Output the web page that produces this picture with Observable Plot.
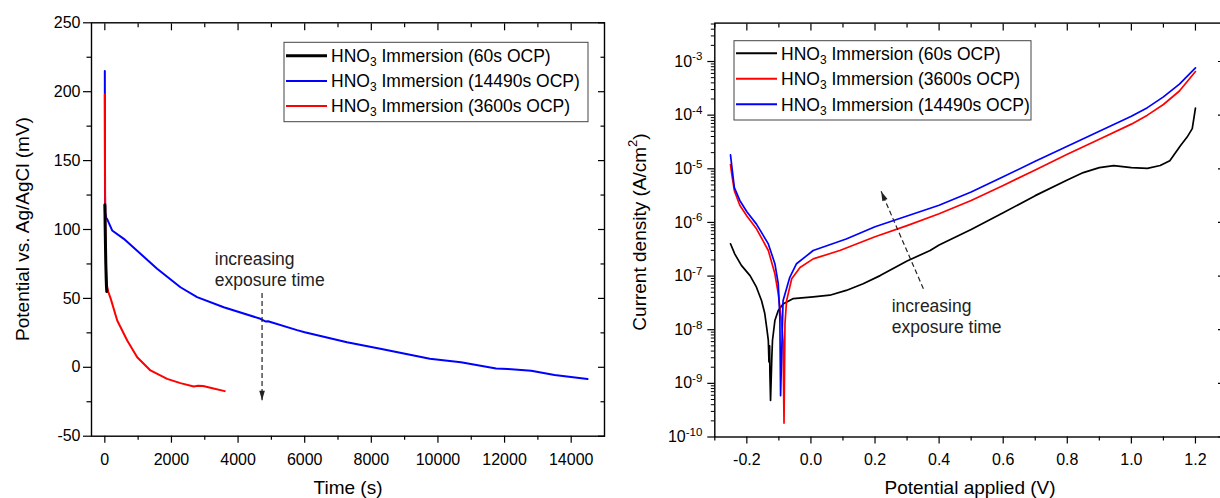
<!DOCTYPE html>
<html><head><meta charset="utf-8">
<script src="https://cdn.jsdelivr.net/npm/d3@7"></script>
<script src="https://cdn.jsdelivr.net/npm/@observablehq/plot@0.6"></script>
<style>
html,body{margin:0;padding:0;background:#fff;overflow:hidden;}
#wrap{width:1220px;height:498px;overflow:hidden;display:flex;position:relative;background:#fff;}
#wrap svg{flex:none;display:block;}
</style></head><body><div id="wrap"></div>
<script>
// ---------- Left panel: OCP vs time ----------
const timeTicks = [0, 2000, 4000, 6000, 8000, 10000, 12000, 14000];
const timeMinor = [1000, 3000, 5000, 7000, 9000, 11000, 13000];
const potTicks = [-50, 0, 50, 100, 150, 200, 250];
const potMinor = [-25, 25, 75, 125, 175, 225];

const ocp60T = [0, 5, 10, 20, 30, 40, 50, 60];
const ocp60V = [118, 112, 102, 88, 75, 65, 58, 55];

const ocp14490T = [0, 2, 5, 15, 40, 70, 220, 570, 1070, 1570, 2270, 2770, 3570, 4670, 4820, 4900, 5770, 6000, 7270, 8270, 9757, 10690, 11745, 12100, 12800, 13500, 14490];
const ocp14490V = [215, 170, 125, 112, 108.5, 107.5, 99.3, 93.2, 82.4, 71.5, 58.1, 50.9, 43.6, 35.2, 33.3, 33.4, 27, 25.5, 18.2, 13.4, 6.2, 3.7, -0.8, -1.3, -2.5, -5.6, -8.5];

const ocp3600T = [0, 5, 10, 20, 35, 60, 100, 174, 372, 672, 972, 1370, 1871, 2270, 2670, 2800, 2950, 3200, 3600];
const ocp3600V = [198, 150, 120, 92, 72, 60, 55, 50, 34, 19.4, 7.3, -2.3, -8.4, -11.5, -13.9, -13.4, -13.6, -15, -17.3];

const annoLeft = [{x: 3300, y: 71.3, text: "increasing\nexposure time"}];
const arrowLeft = [{x1: 4720, y1: 54, x2: 4720, y2: -24}];

// ---------- Right panel: polarisation curves ----------
const potAppTicks = [-0.2, 0, 0.2, 0.4, 0.6, 0.8, 1.0, 1.2];
const potAppMinor = [-0.3, -0.1, 0.1, 0.3, 0.5, 0.7, 0.9, 1.1, 1.3];
const curTicks = [1e-10, 1e-9, 1e-8, 1e-7, 1e-6, 1e-5, 1e-4, 1e-3];

const pol60V = [-0.251, -0.2375, -0.217, -0.19, -0.17, -0.154, -0.144, -0.137, -0.133, -0.131, -0.129, -0.128, -0.126, -0.122, -0.12, -0.1125, -0.102, -0.087, -0.055, 0.007, 0.059, 0.11, 0.163, 0.216, 0.3, 0.372, 0.4, 0.5, 0.6, 0.7, 0.8, 0.85, 0.9, 0.945, 1.0, 1.05, 1.09, 1.12, 1.153, 1.174, 1.19, 1.2];
const pol60J = [4.0e-7, 2.57e-7, 1.58e-7, 1.02e-7, 6.2e-8, 3.47e-8, 2.0e-8, 9.8e-9, 6.3e-9, 2.5e-9, 5e-9, 1.51e-9, 4.8e-10, 3.1e-9, 6.3e-9, 1.48e-8, 2.29e-8, 3.0e-8, 3.8e-8, 4.1e-8, 4.4e-8, 5.4e-8, 7.2e-8, 1.02e-7, 1.91e-7, 3.0e-7, 3.8e-7, 7.4e-7, 1.51e-6, 3.16e-6, 6.2e-6, 8.5e-6, 1.05e-5, 1.15e-5, 1.05e-5, 1.02e-5, 1.15e-5, 1.41e-5, 2.7e-5, 3.9e-5, 5.6e-5, 1.35e-4];

const pol3600V = [-0.251, -0.247, -0.239, -0.222, -0.2, -0.17, -0.133, -0.1125, -0.102, -0.092, -0.087, -0.084, -0.081, -0.076, -0.06, -0.034, 0.007, 0.09, 0.2, 0.3, 0.4, 0.5, 0.6, 0.7, 0.8, 0.9, 1.0, 1.05, 1.1, 1.15, 1.2];
const pol3600J = [1.2e-5, 7.9e-6, 3.9e-6, 2.09e-6, 1.32e-6, 7.6e-7, 3.0e-7, 1.1e-7, 4.7e-8, 1.48e-8, 6.3e-9, 1.82e-10, 1.29e-8, 3.47e-8, 8.9e-8, 1.45e-7, 2.09e-7, 3.0e-7, 5.4e-7, 8.7e-7, 1.45e-6, 2.57e-6, 4.9e-6, 9.5e-6, 1.86e-5, 3.55e-5, 6.8e-5, 1.0e-4, 1.58e-4, 2.82e-4, 6.5e-4];

const pol14490V = [-0.251, -0.247, -0.239, -0.222, -0.2, -0.17, -0.133, -0.1125, -0.102, -0.097, -0.0947, -0.087, -0.066, -0.045, -0.013, 0.007, 0.11, 0.2, 0.3, 0.4, 0.5, 0.6, 0.7, 0.8, 0.9, 1.0, 1.05, 1.1, 1.15, 1.2];
const pol14490J = [1.82e-5, 1.12e-5, 4.47e-6, 2.57e-6, 1.58e-6, 9.3e-7, 3.98e-7, 1.7e-7, 7.2e-8, 1.7e-8, 5.9e-10, 3.47e-8, 9.5e-8, 1.7e-7, 2.4e-7, 3.0e-7, 4.9e-7, 8.3e-7, 1.32e-6, 2.09e-6, 3.7e-6, 7.1e-6, 1.38e-5, 2.63e-5, 5.0e-5, 9.5e-5, 1.38e-4, 2.19e-4, 3.8e-4, 7.6e-4];

const annoRight = [{x: 0.252, y: 1.84e-8, text: "increasing\nexposure time"}];
const arrowRight = [{x1: 0.351, y1: 5.8e-8, x2: 0.219, y2: 3.8e-6}];

// ---------- helpers ----------
const FONT = "'Liberation Sans', Arial, Helvetica, sans-serif";
const zip = (xs, ys) => xs.map((x, i) => ({x, y: ys[i]}));
const headSymbol = {draw(ctx, size) { const s = Math.sqrt(size / Math.PI); ctx.moveTo(0, 0); ctx.lineTo(0.7 * s, 2.4 * s); ctx.lineTo(-0.7 * s, 2.4 * s); ctx.closePath(); }};
const blank = () => "";

function legend(svg, box, items) {
  const g = d3.select(svg).append("g").attr("font-family", FONT).attr("text-anchor", "start");
  g.append("rect").attr("x", box.x).attr("y", box.y).attr("width", box.w).attr("height", box.h)
    .attr("fill", "white").attr("stroke", "#444").attr("stroke-width", 1);
  items.forEach((it, i) => {
    const cy = box.row0 + i * box.step;
    g.append("line").attr("x1", box.x + 2).attr("x2", box.x + 43).attr("y1", cy).attr("y2", cy)
      .attr("stroke", it.color).attr("stroke-width", it.w);
    const t = g.append("text").attr("x", box.x + 47).attr("y", cy).attr("dy", "0.36em")
      .attr("text-anchor", "start").attr("font-size", 17.5).attr("fill", "black");
    t.append("tspan").text("HNO");
    t.append("tspan").attr("font-size", 12).attr("dy", 4).text("3");
    t.append("tspan").attr("dy", -4).text(" Immersion (" + it.label + ")");
  });
}
function title(svg, x, y, rot, parts) {
  const t = d3.select(svg).append("text").attr("font-family", FONT).attr("font-size", 19)
    .attr("text-anchor", "middle").attr("dominant-baseline", "central").attr("fill", "black")
    .attr("transform", `translate(${x},${y}) rotate(${rot})`);
  parts.forEach(p => {
    const s = t.append("tspan").text(p.t);
    if (p.sup) s.attr("font-size", 13).attr("dy", -7);
    if (p.after) s.attr("dy", 7);
  });
}

// ---------- Left plot ----------
const left = Plot.plot({
  width: 610, height: 498,
  marginLeft: 91, marginRight: 6, marginTop: 22.3, marginBottom: 62.3,
  style: {fontFamily: FONT, fontSize: "16px", color: "black", background: "white"},
  x: {domain: [-400, 15000]},
  y: {domain: [-50, 250]},
  marks: [
    Plot.axisX({ticks: timeTicks, tickSize: 7, tickPadding: 10, tickFormat: d => String(d), label: null, strokeWidth: 1.2}),
    Plot.axisX({ticks: timeMinor, tickSize: 4, tickFormat: blank, label: null, strokeWidth: 1.2}),
    Plot.axisX({anchor: "top", ticks: timeTicks, tickSize: -7, tickFormat: blank, label: null, strokeWidth: 1.2}),
    Plot.axisX({anchor: "top", ticks: timeMinor, tickSize: -4, tickFormat: blank, label: null, strokeWidth: 1.2}),
    Plot.axisY({ticks: potTicks, tickSize: 8, tickPadding: 3, tickFormat: d => String(d), label: null, strokeWidth: 1.2}),
    Plot.axisY({ticks: potMinor, tickSize: 4.5, tickFormat: blank, label: null, strokeWidth: 1.2}),
    Plot.axisY({anchor: "right", ticks: potTicks, tickSize: -7, tickFormat: blank, label: null, strokeWidth: 1.2}),
    Plot.axisY({anchor: "right", ticks: potMinor, tickSize: -4.5, tickFormat: blank, label: null, strokeWidth: 1.2}),
    Plot.line(zip(ocp14490T, ocp14490V), {x: "x", y: "y", stroke: "#0000ff", strokeWidth: 2}),
    Plot.line(zip(ocp3600T, ocp3600V), {x: "x", y: "y", stroke: "#ff0000", strokeWidth: 2}),
    Plot.line(zip(ocp60T, ocp60V), {x: "x", y: "y", stroke: "black", strokeWidth: 3}),
    Plot.text(annoLeft, {x: "x", y: "y", text: "text", textAnchor: "start", lineAnchor: "middle", lineHeight: 1.15, fontSize: 17.5, fill: "#222"}),
    Plot.link(arrowLeft, {x1: "x1", y1: "y1", x2: "x2", y2: "y2", stroke: "#222", strokeWidth: 1.2, strokeDasharray: "5,3"}),
    Plot.dot(arrowLeft, {x: "x2", y: "y2", symbol: headSymbol, r: 4, fill: "#222", stroke: null, rotate: 180}),
    Plot.frame({stroke: "black", strokeWidth: 1.4})
  ]
});
legend(left, {x: 284, y: 42.3, w: 304, h: 79.4, row0: 55.7, step: 25.2}, [
  {color: "black", w: 3, label: "60s OCP"},
  {color: "#0000ff", w: 2, label: "14490s OCP"},
  {color: "#ff0000", w: 2, label: "3600s OCP"}
]);
title(left, 22, 229, -90, [{t: "Potential vs. Ag/AgCl (mV)"}]);
title(left, 348, 487, 0, [{t: "Time (s)"}]);

// ---------- Right plot ----------
const curMinor = curTicks.flatMap(d => [2, 3, 4, 5, 6, 7, 8, 9].map(m => m * d)).filter(v => v <= 5.2e-3);
const right = Plot.plot({
  width: 630, height: 498,
  marginLeft: 104.3, marginRight: 13, marginTop: 22.6, marginBottom: 61.5,
  style: {fontFamily: FONT, fontSize: "16px", color: "black", background: "white"},
  x: {domain: [-0.3, 1.3]},
  y: {type: "log", domain: [1e-10, 5.2e-3]},
  marks: [
    Plot.axisX({ticks: potAppTicks, tickSize: 7, tickPadding: 10, tickFormat: d => d.toFixed(1), label: null, strokeWidth: 1.2}),
    Plot.axisX({ticks: potAppMinor, tickSize: 4, tickFormat: blank, label: null, strokeWidth: 1.2}),
    Plot.axisX({anchor: "top", ticks: potAppTicks, tickSize: -7, tickFormat: blank, label: null, strokeWidth: 1.2}),
    Plot.axisX({anchor: "top", ticks: potAppMinor, tickSize: -4, tickFormat: blank, label: null, strokeWidth: 1.2}),
    Plot.axisY({ticks: curTicks, tickSize: 7, tickPadding: 5.5, tickFormat: d => "10^" + Math.round(Math.log10(d)), label: null, strokeWidth: 1.2}),
    Plot.axisY({ticks: curMinor, tickSize: 3.5, tickFormat: blank, label: null, strokeWidth: 1}),
    Plot.axisY({anchor: "right", ticks: curTicks, tickSize: -10, tickFormat: blank, label: null, strokeWidth: 1.2}),
    Plot.axisY({anchor: "right", ticks: curMinor, tickSize: -4, tickFormat: blank, label: null, strokeWidth: 1}),
    Plot.line(zip(pol60V, pol60J), {x: "x", y: "y", stroke: "black", strokeWidth: 1.7}),
    Plot.line(zip(pol3600V, pol3600J), {x: "x", y: "y", stroke: "#ff0000", strokeWidth: 1.7}),
    Plot.line(zip(pol14490V, pol14490J), {x: "x", y: "y", stroke: "#0000ff", strokeWidth: 1.7}),
    Plot.text(annoRight, {x: "x", y: "y", text: "text", textAnchor: "start", lineAnchor: "middle", lineHeight: 1.2, fontSize: 17.5, fill: "#222"}),
    Plot.link(arrowRight, {x1: "x1", y1: "y1", x2: "x2", y2: "y2", stroke: "#222", strokeWidth: 1.2, strokeDasharray: "5,3"}),
    Plot.dot(arrowRight, {x: "x2", y: "y2", symbol: headSymbol, r: 4, fill: "#222", stroke: null, rotate: -23.5}),
    Plot.frame({stroke: "black", strokeWidth: 1.4})
  ]
});
d3.select(right).selectAll('g[aria-label="y-axis tick label"] text').each(function () {
  const s = this.textContent;
  if (!s.includes("^")) return;
  const [b, e] = s.split("^");
  const t = d3.select(this);
  t.text(b);
  t.append("tspan").attr("dy", "-0.55em").attr("font-size", "11.5px").text(e);
});
legend(right, {x: 124, y: 40.7, w: 297, h: 79.3, row0: 53.3, step: 25.5}, [
  {color: "black", w: 2, label: "60s OCP"},
  {color: "#ff0000", w: 2, label: "3600s OCP"},
  {color: "#0000ff", w: 2, label: "14490s OCP"}
]);
title(right, 29, 232, -90, [{t: "Current density (A/cm"}, {t: "2", sup: true}, {t: ")", after: true}]);
title(right, 360, 487, 0, [{t: "Potential applied (V)"}]);

const wrap = document.getElementById("wrap");
wrap.appendChild(left);
wrap.appendChild(right);
</script></body></html>
